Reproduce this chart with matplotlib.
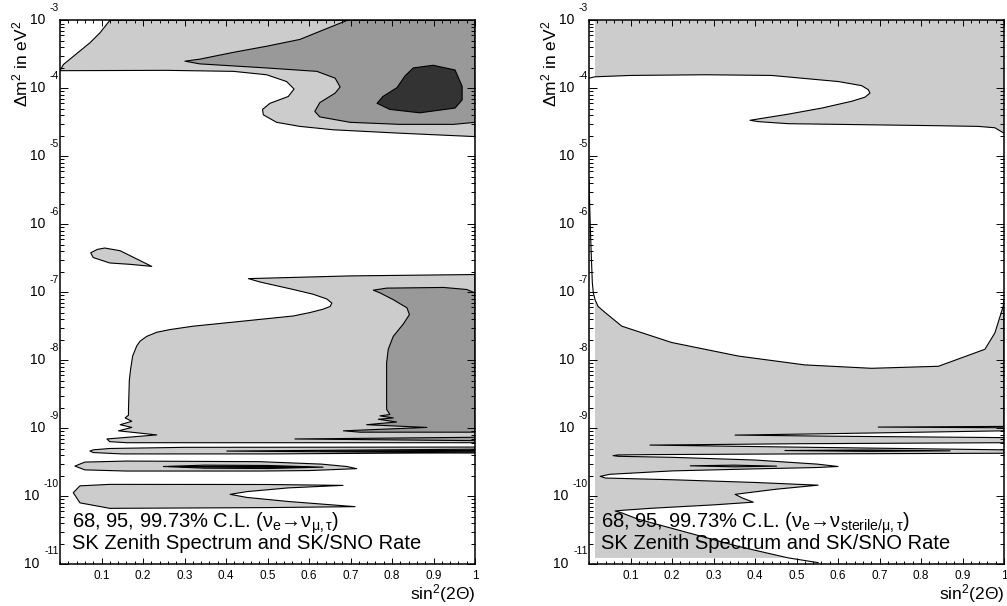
import numpy as np
import matplotlib
matplotlib.use('Agg')
import matplotlib.pyplot as plt
from matplotlib.ticker import LogLocator, NullFormatter, MultipleLocator, FixedLocator
from matplotlib.transforms import offset_copy

plt.rcParams['font.family'] = ['Liberation Sans', 'DejaVu Sans']
plt.rcParams['mathtext.fontset'] = 'custom'
plt.rcParams['mathtext.rm'] = 'Liberation Sans'
plt.rcParams['mathtext.it'] = 'Liberation Sans:italic'
plt.rcParams['mathtext.bf'] = 'Liberation Sans:bold'

LIGHT, MID, DARK = '#cccccc', '#999999', '#333333'
XMIN, XMAX = 0.0, 1.0
EMIN, EMAX = -11, -3          # log10 of dm^2 range

x_ticks = [0.1, 0.2, 0.3, 0.4, 0.5, 0.6, 0.7, 0.8, 0.9, 1.0]
x_ticklabels = ['0.1', '0.2', '0.3', '0.4', '0.5', '0.6', '0.7', '0.8', '0.9', '1']
y_exponents = [-3, -4, -5, -6, -7, -8, -9, -10, -11]

# ---- left panel (nu_e -> nu_mu,tau), boundaries as sin^2(2theta), log10(dm^2) ----
# 99.73% region, large-angle part
lt_x = [0.120, 0.096, 0.072, 0.050, 0.032, 0.008, 0.0, 0.257, 0.418, 0.498, 0.546,
        0.564, 0.550, 0.506, 0.488, 0.490, 0.522, 0.578, 0.659, 0.819, 1.0]
lt_e = [-3.00, -3.185, -3.33, -3.44, -3.53, -3.65, -3.74, -3.735, -3.75, -3.80, -3.90,
        -4.01, -4.12, -4.22, -4.31, -4.39, -4.50, -4.56, -4.61, -4.66, -4.71]
# 95% region, large-angle part
mt_x = [0.692, 0.659, 0.578, 0.498, 0.418, 0.337, 0.301, 0.337, 0.498, 0.619,
        0.663, 0.675, 0.663, 0.626, 0.614, 0.626, 0.699, 0.819, 0.948, 1.0]
mt_e = [-3.00, -3.08, -3.28, -3.38, -3.47, -3.57, -3.60, -3.64, -3.70, -3.75,
        -3.85, -3.98, -4.07, -4.21, -4.34, -4.42, -4.50, -4.53, -4.53, -4.50]
# 68% region
dk_x = [0.764, 0.778, 0.812, 0.831, 0.851, 0.899, 0.952, 0.969, 0.969, 0.952, 0.867, 0.795]
dk_e = [-4.22, -4.12, -3.99, -3.82, -3.70, -3.66, -3.73, -3.97, -4.17, -4.29, -4.36, -4.31]
# small 99.73% island
isl_x = [0.074, 0.090, 0.108, 0.145, 0.221, 0.169, 0.120, 0.080]
isl_e = [-6.42, -6.37, -6.35, -6.39, -6.62, -6.59, -6.57, -6.49]
# 99.73% low dm^2 region
ll_x = [1.0, 0.70, 0.454, 0.482, 0.562, 0.610, 0.643, 0.655, 0.651, 0.634, 0.602,
        0.562, 0.482, 0.402, 0.321, 0.265, 0.233, 0.209, 0.193, 0.185, 0.175,
        0.170, 0.167, 0.165, 0.165, 0.157, 0.173, 0.145,
        0.173, 0.141, 0.233, 0.113, 0.120, 0.161, 1.0]
ll_e = [-6.74, -6.76, -6.80, -6.85, -6.96, -7.03, -7.10, -7.16, -7.21, -7.25, -7.30,
        -7.35, -7.40, -7.45, -7.50, -7.55, -7.59, -7.65, -7.72, -7.79, -7.94,
        -8.14, -8.30, -8.725, -8.81, -8.85, -8.90, -8.95,
        -8.99, -9.04, -9.10, -9.16, -9.20, -9.215, -9.215]
# 95% low dm^2 region
mm_x = [1.0, 0.980, 0.924, 0.787, 0.755, 0.771, 0.803, 0.836, 0.842, 0.827,
        0.803, 0.791, 0.787, 0.787, 0.795, 0.771, 0.803, 0.767, 0.811, 0.739,
        0.884, 0.683, 0.723, 1.0]
mm_e = [-7.01, -6.96, -6.93, -6.94, -6.97, -7.01, -7.11, -7.23, -7.33, -7.47,
        -7.65, -7.84, -8.04, -8.725, -8.80, -8.82, -8.85, -8.87, -8.91, -8.95,
        -8.99, -9.04, -9.06, -9.06]
# vacuum-oscillation bands
s1_x, s1_e = [1.0, 0.566, 1.0], [-9.135, -9.16, -9.185]
b2_x = [1.0, 0.30, 0.12, 0.08, 0.072, 0.08, 0.15, 0.50, 1.0]
b2_e = [-9.279, -9.283, -9.30, -9.32, -9.338, -9.36, -9.38, -9.38, -9.362]
s2_x, s2_e = [1.0, 0.402, 1.0], [-9.31, -9.338, -9.365]
s3_x, s3_e = [1.0, 0.627, 1.0], [-9.328, -9.338, -9.35]
b3_x = [0.036, 0.06, 0.161, 0.482, 0.63, 0.691, 0.715, 0.60, 0.482, 0.161, 0.06]
b3_e = [-9.559, -9.50, -9.485, -9.494, -9.53, -9.565, -9.597, -9.625, -9.632, -9.632, -9.615]
s4_x = [0.249, 0.35, 0.50, 0.634, 0.50, 0.35]
s4_e = [-9.565, -9.545, -9.55, -9.575, -9.595, -9.59]
s5_x = [0.29, 0.45, 0.60, 0.45]
s5_e = [-9.568, -9.562, -9.575, -9.578]
b4_x = [0.032, 0.048, 0.12, 0.5, 0.682, 0.55, 0.45, 0.41, 0.45, 0.55, 0.711, 0.5, 0.12, 0.048]
b4_e = [-9.95, -9.85, -9.828, -9.83, -9.843, -9.88, -9.935, -9.975, -10.02, -10.08,
        -10.156, -10.17, -10.181, -10.10]

# ---- right panel (nu_e -> nu_sterile/mu,tau) ----
R_EDGE = 0.0145          # fill starts here, boundary lines start at 0
R2_BOTTOM = -10.91
r1_x = [0.0, 0.0145, 0.10, 0.280, 0.440, 0.601, 0.657, 0.673, 0.677, 0.665,
        0.633, 0.561, 0.480, 0.408, 0.388, 0.408, 0.480, 0.601, 0.842, 0.938, 0.978, 1.0]
r1_e = [-3.85, -3.83, -3.81, -3.80, -3.81, -3.90, -3.96, -4.02, -4.07, -4.13,
        -4.19, -4.29, -4.38, -4.45, -4.47, -4.49, -4.52, -4.53, -4.55, -4.56, -4.58, -4.66]
r2_x = [0.0, 0.0024, 0.005, 0.008, 0.0104, 0.0145, 0.022, 0.039, 0.079, 0.199,
        0.360, 0.520, 0.681, 0.842, 0.954, 0.978, 0.998, 1.0,
        1.0, 0.697, 1.0,
        1.0, 0.6, 0.352, 0.6, 1.0,
        1.0, 0.5, 0.147, 0.5, 1.0,
        1.0, 0.5, 0.15, 0.07, 0.058, 0.07, 0.2, 0.4, 0.55, 0.60,
        0.55, 0.4, 0.2, 0.05, 0.027, 0.04, 0.2, 0.4, 0.552,
        0.45, 0.352, 0.37, 0.396,
        0.3, 0.15, 0.08, 0.063, 0.08, 0.118, 0.239, 0.359, 0.48, 0.552]
r2_e = [-5.35, -5.88, -6.37, -6.86, -7.01, -7.11, -7.21, -7.30, -7.50, -7.74,
        -7.94, -8.07, -8.12, -8.09, -7.84, -7.60, -7.21, -7.12,
        -8.975, -8.985, -8.995,
        -9.04, -9.08, -9.103, -9.12, -9.14,
        -9.215, -9.23, -9.25, -9.28, -9.32,
        -9.37, -9.38, -9.39, -9.395, -9.405, -9.415, -9.43, -9.47, -9.53, -9.565,
        -9.58, -9.60, -9.63, -9.68, -9.71, -9.735, -9.76, -9.80, -9.84,
        -9.90, -9.975, -10.03, -10.09,
        -10.13, -10.18, -10.21, -10.22, -10.25, -10.34, -10.54, -10.74, -10.91, -10.98]
rs1_x, rs1_e = [0.244, 0.35, 0.452, 0.35], [-9.555, -9.545, -9.56, -9.57]
rs2_x, rs2_e = [0.472, 0.67, 0.87, 0.67], [-9.33, -9.322, -9.335, -9.342]

LW = 0.8
TXT = 14.5


def patch(ax, xs, es, color, edge=True):
    ax.fill(xs, 10.0 ** np.asarray(es), facecolor=color,
            edgecolor='black' if edge else 'none', linewidth=LW, joinstyle='round')


def style_axes(ax, fig):
    ax.set_yscale('log')
    ax.set_xlim(XMIN, XMAX)
    ax.set_ylim(10.0 ** EMIN, 10.0 ** EMAX)
    ax.xaxis.set_major_locator(FixedLocator(x_ticks))
    ax.set_xticklabels(x_ticklabels)
    ax.xaxis.set_minor_locator(MultipleLocator(0.02))
    ax.yaxis.set_major_locator(LogLocator(base=10, numticks=20))
    ax.yaxis.set_minor_locator(LogLocator(base=10, subs=np.arange(2, 10), numticks=100))
    ax.yaxis.set_major_formatter(NullFormatter())
    ax.yaxis.set_minor_formatter(NullFormatter())
    ax.tick_params(axis='x', which='major', direction='in', top=True, length=4.3,
                   width=0.7, labelsize=8.5, pad=4.5)
    ax.tick_params(axis='x', which='minor', direction='in', top=True, length=2.2, width=0.7)
    ax.tick_params(axis='y', which='major', direction='in', right=True, length=5.8, width=0.7)
    ax.tick_params(axis='y', which='minor', direction='in', right=True, length=2.9, width=0.7)
    for sp in ax.spines.values():
        sp.set_linewidth(1.1)
    trans = ax.get_yaxis_transform()
    for k in y_exponents:
        t_exp = offset_copy(trans, fig=fig, x=-1, y=12.5, units='dots')
        ax.text(0, 10.0 ** k, str(k), transform=t_exp, ha='right', va='center', fontsize=7.5)
        shift = 15 if k > -10 else 21
        t_base = offset_copy(trans, fig=fig, x=-shift, y=0, units='dots')
        ax.text(0, 10.0 ** k, '10', transform=t_base, ha='right', va='center', fontsize=10)
    ylab = offset_copy(ax.transAxes, fig=fig, x=-40, y=0, units='dots')
    ax.text(0, 1.0, 'Δm$^{2}$ in eV$^{2}$', transform=ylab, rotation=90,
            ha='center', va='top', fontsize=12.5)
    ax.text(1.0, -0.066, 'sin$^{2}$(2Θ)', transform=ax.transAxes, ha='right',
            va='baseline', fontsize=12.5)
    ax.text(0.029, 0.028, 'SK Zenith Spectrum and SK/SNO Rate', transform=ax.transAxes,
            ha='left', va='baseline', fontsize=TXT)


fig = plt.figure(figsize=(10.07, 6.06), dpi=100)
axL = fig.add_axes([60 / 1007, 42 / 606, 415 / 1007, 543.6 / 606])
axR = fig.add_axes([589 / 1007, 42 / 606, 415 / 1007, 543.6 / 606])

# left panel
patch(axL, lt_x + [XMAX], lt_e + [EMAX], LIGHT)
patch(axL, mt_x + [XMAX], mt_e + [EMAX], MID)
patch(axL, dk_x, dk_e, DARK)
patch(axL, isl_x, isl_e, LIGHT)
patch(axL, ll_x, ll_e, LIGHT)
patch(axL, mm_x, mm_e, MID)
patch(axL, s1_x, s1_e, MID)
patch(axL, b2_x, b2_e, LIGHT)
patch(axL, s2_x, s2_e, MID)
patch(axL, s3_x, s3_e, DARK)
patch(axL, b3_x, b3_e, LIGHT)
patch(axL, s4_x, s4_e, MID)
patch(axL, s5_x, s5_e, DARK)
patch(axL, b4_x, b4_e, LIGHT)
style_axes(axL, fig)
axL.text(0.029, 0.066, r'68, 95, 99.73% C.L. (ν$_{\mathrm{e}}$→ν$_{\mathrm{\mu,\tau}}$)',
         transform=axL.transAxes, ha='left', va='baseline', fontsize=TXT)

# right panel
patch(axR, r1_x[1:] + [XMAX, R_EDGE], r1_e[1:] + [EMAX, EMAX], LIGHT, edge=False)
axR.plot(r1_x, 10.0 ** np.asarray(r1_e), color='black', lw=LW)
r2x, r2e = np.asarray(r2_x), np.asarray(r2_e)
i0 = int(np.argmax(r2x >= R_EDGE))
i1 = int(np.nonzero(r2e >= R2_BOTTOM)[0][-1])
patch(axR, list(r2x[i0:i1 + 1]) + [R_EDGE], list(r2e[i0:i1 + 1]) + [R2_BOTTOM], LIGHT, edge=False)
axR.plot(r2x, 10.0 ** r2e, color='black', lw=LW, solid_joinstyle='round')
patch(axR, rs1_x, rs1_e, MID)
patch(axR, rs2_x, rs2_e, DARK)
style_axes(axR, fig)
axR.text(0.029, 0.066,
         r'68, 95, 99.73% C.L. (ν$_{\mathrm{e}}$→ν$_{\mathrm{sterile/\mu,\tau}}$)',
         transform=axR.transAxes, ha='left', va='baseline', fontsize=TXT)

fig.savefig('out.png', dpi=100)
